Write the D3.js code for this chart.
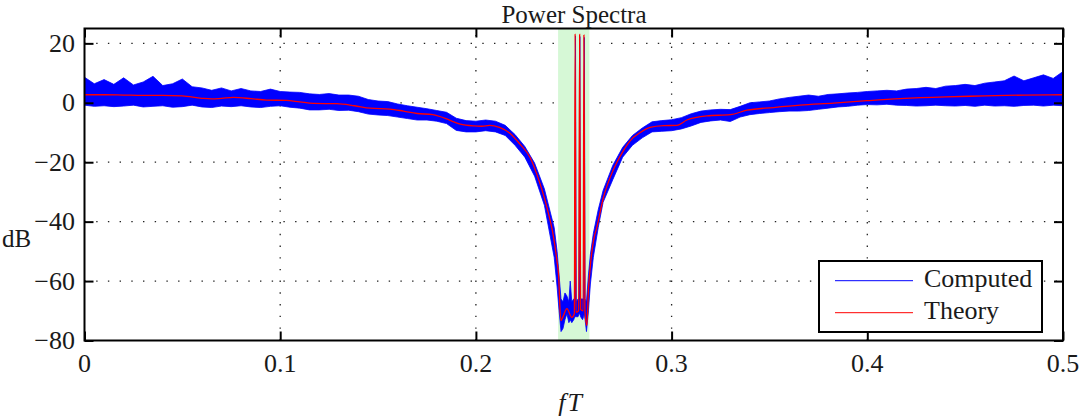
<!DOCTYPE html>
<html><head><meta charset="utf-8">
<script src="https://cdn.jsdelivr.net/npm/d3@7/dist/d3.min.js"></script>
<style>
html,body{margin:0;padding:0;background:#fff;}
svg{display:block;}
</style></head>
<body>
<svg id="chart" width="1087" height="418" font-family="'Liberation Serif', 'Times New Roman', 'DejaVu Serif', serif"></svg>
<script>
// ---------------- data ----------------
const chartTitle = "Power Spectra";
const xLabel = "fT";
const yLabel = "dB";
const legendLabels = ["Computed", "Theory"];
const xTicks = [0, 0.1, 0.2, 0.3, 0.4, 0.5];
const xTickLabels = ["0", "0.1", "0.2", "0.3", "0.4", "0.5"];
const yTicks = [-80, -60, -40, -20, 0, 20];
const yTickLabels = ["\u221280", "\u221260", "\u221240", "\u221220", "0", "20"];
const xDomain = [0, 0.5];
const yDomain = [-80, 25];
const notchBand = [0.242, 0.258];

const theoryFreq = [0.000,0.010,0.020,0.030,0.040,0.050,0.060,0.065,0.070,0.076,0.085,0.093,0.103,0.110,0.117,0.129,0.138,0.146,0.156,0.163,0.170,0.178,0.182,0.186,0.192,0.199,0.203,0.207,0.212,0.2175,0.2225,0.2277,0.2328,0.2363,0.2397,0.2414,0.2422,0.2434,0.2445,0.2465,0.2490,0.2503,0.2507,0.2511,0.2525,0.2530,0.2535,0.2548,0.2552,0.2557,0.2567,0.2575,0.2584,0.2601,0.2618,0.2652,0.2686,0.2720,0.2754,0.2788,0.2840,0.2890,0.2959,0.3027,0.3078,0.3180,0.3300,0.3385,0.3520,0.3657,0.3827,0.3998,0.4168,0.4400,0.4600,0.4800,0.5000];
const theoryDB   = [2.7,2.7,2.6,2.5,2.5,2.3,1.5,1.3,1.5,1.8,1.4,0.9,0.8,0.3,-0.2,-0.3,-1.0,-1.8,-2.1,-2.8,-3.6,-4.0,-4.7,-5.7,-7.2,-7.8,-7.9,-7.6,-8.3,-10.3,-13.9,-18.4,-27.3,-35.2,-45.3,-53.1,-57.5,-73.3,-72.0,-69.3,-72.2,-71.0,23.3,-70.5,-70.0,23.0,-69.5,-70.0,22.8,-70.0,-75.0,-63.0,-55.4,-46.4,-41.9,-31.8,-25.1,-20.1,-16.1,-12.8,-10.0,-8.3,-7.7,-7.6,-5.8,-4.4,-4.0,-2.5,-1.6,-0.8,-0.1,0.7,1.4,2.0,2.3,2.6,2.7];

const computedFreq = [0.000,0.005,0.010,0.015,0.020,0.025,0.030,0.035,0.040,0.045,0.050,0.055,0.060,0.065,0.070,0.075,0.080,0.085,0.090,0.095,0.100,0.105,0.110,0.115,0.120,0.125,0.130,0.135,0.140,0.145,0.150,0.155,0.160,0.165,0.170,0.175,0.180,0.185,0.190,0.195,0.200,0.205,0.210,0.215,0.220,0.225,0.230,0.235,0.2400,0.2415,0.2425,0.2435,0.2445,0.2455,0.2465,0.2475,0.2482,0.2490,0.2500,0.2505,0.2509,0.2513,0.2522,0.2527,0.2531,0.2535,0.2545,0.2550,0.2554,0.2558,0.2565,0.2575,0.2585,0.2600,0.2625,0.2650,0.2700,0.2750,0.2800,0.2850,0.2900,0.2950,0.3000,0.3050,0.3100,0.3150,0.3200,0.3250,0.3300,0.3350,0.3400,0.3450,0.3500,0.3550,0.3600,0.3650,0.3700,0.3750,0.3800,0.3850,0.3900,0.3950,0.4000,0.4050,0.4100,0.4150,0.4200,0.4250,0.4300,0.4350,0.4400,0.4450,0.4500,0.4550,0.4600,0.4650,0.4700,0.4750,0.4800,0.4850,0.4900,0.4950,0.5000];
const computedHigh = [8.6,6.4,7.8,6.2,8.4,6.0,7.0,8.9,5.8,6.4,8.0,5.4,5.0,4.2,5.0,4.0,4.8,4.0,3.8,4.6,3.8,3.6,3.5,3.0,2.8,3.1,2.6,2.6,2.2,1.1,0.6,0.4,-0.4,-1.0,-1.5,-2.0,-2.6,-3.2,-5.2,-6.0,-6.2,-5.8,-6.2,-7.6,-10.7,-14.7,-20.3,-29.0,-42.0,-50.0,-58.0,-66.0,-67.0,-64.0,-65.0,-67.0,-60.0,-67.0,-66.0,-66.0,22.5,-67.0,-66.0,-66.0,22.3,-66.0,-66.0,-66.0,22.0,-66.0,-67.0,-58.0,-51.0,-44.0,-36.0,-29.5,-21.0,-15.0,-11.0,-8.5,-6.4,-6.0,-5.7,-5.0,-3.7,-2.8,-2.4,-2.2,-2.3,-1.2,0.0,0.3,0.6,1.3,1.8,2.2,2.6,2.2,2.8,3.0,3.3,3.5,3.8,4.0,4.2,4.0,4.6,4.8,5.2,4.8,5.6,5.8,6.2,5.8,6.6,7.0,7.4,9.0,7.4,8.4,9.4,8.2,10.5];
const computedLow  = [-0.8,-1.2,-1.0,-1.3,-1.1,-0.8,-1.4,-1.2,-1.0,-1.5,-1.3,-0.8,-1.4,-1.6,-1.1,-1.3,-1.0,-1.4,-1.6,-1.2,-1.0,-1.5,-1.8,-2.4,-2.4,-2.2,-2.6,-2.5,-3.0,-3.8,-4.1,-4.3,-4.8,-5.3,-5.8,-5.8,-6.2,-7.0,-9.3,-9.8,-9.8,-9.4,-9.8,-11.0,-14.3,-18.3,-24.7,-34.5,-52.0,-62.0,-70.0,-77.0,-76.0,-73.0,-71.0,-74.0,-73.0,-74.0,-73.0,-72.0,-72.0,-72.0,-72.0,-71.0,-71.0,-72.0,-73.0,-72.0,-71.0,-73.0,-77.0,-70.0,-61.0,-52.0,-42.0,-33.5,-25.8,-18.3,-14.3,-11.8,-9.8,-9.6,-9.4,-8.8,-7.8,-6.6,-6.1,-5.8,-6.3,-4.8,-4.0,-3.6,-3.3,-3.0,-2.8,-2.8,-2.6,-2.2,-1.8,-1.4,-1.2,-0.8,-0.6,-0.7,-0.5,-0.8,-0.9,-1.1,-1.0,-0.8,-1.0,-1.1,-0.9,-1.2,-0.8,-1.1,-1.0,-1.2,-0.9,-0.8,-1.1,-0.8,-1.0];

// ---------------- layout ----------------
const svg = d3.select("#chart");
const plot = {left: 84.5, right: 1063, top: 28.5, bottom: 340.5};
const x = d3.scaleLinear().domain(xDomain).range([plot.left, plot.right]);
const y = d3.scaleLinear().domain(yDomain).range([plot.bottom, plot.top]);
const fontSize = 26;
const textColor = "#1a1a1a";

// grid
const grid = svg.append("g");
grid.selectAll("line.gx").data(xTicks.filter(t => t > xDomain[0] && t < xDomain[1])).enter()
  .append("line").attr("x1", d => x(d)).attr("x2", d => x(d))
  .attr("y1", plot.bottom).attr("y2", plot.top)
  .attr("stroke", "#222").attr("stroke-width", 1.3).attr("stroke-dasharray", "1.4,10.3");
grid.selectAll("line.gy").data(yTicks.filter(t => t > yDomain[0] && t < yDomain[1])).enter()
  .append("line").attr("y1", d => y(d)).attr("y2", d => y(d))
  .attr("x1", plot.left).attr("x2", plot.right)
  .attr("stroke", "#222").attr("stroke-width", 1.3).attr("stroke-dasharray", "1.4,10.3");

// notch band
svg.append("rect").attr("x", x(notchBand[0])).attr("y", plot.top)
  .attr("width", x(notchBand[1]) - x(notchBand[0])).attr("height", plot.bottom - plot.top)
  .attr("fill", "#d6f8d6");

// computed
const compData = computedFreq.map((f, i) => ({f, hi: computedHigh[i], lo: computedLow[i]}));
const area = d3.area().x(d => x(d.f)).y0(d => y(d.lo)).y1(d => y(d.hi)).curve(d3.curveLinear);
svg.append("path").datum(compData).attr("d", area)
  .attr("fill", "#0000ff").attr("stroke", "#0000ff").attr("stroke-width", 0.8).attr("stroke-linejoin", "miter");

// theory
const thData = theoryFreq.map((f, i) => ({f, v: theoryDB[i]}));
const line = d3.line().x(d => x(d.f)).y(d => y(d.v)).curve(d3.curveMonotoneX);
svg.append("path").datum(thData).attr("d", line)
  .attr("fill", "none").attr("stroke", "#ff0000").attr("stroke-width", 1.3);

// axes box
svg.append("rect").attr("x", plot.left).attr("y", plot.top)
  .attr("width", plot.right - plot.left).attr("height", plot.bottom - plot.top)
  .attr("fill", "none").attr("stroke", "#000").attr("stroke-width", 2);

const tickLen = 9;
const axB = d3.axisBottom(x).tickValues(xTicks).tickSize(-tickLen).tickFormat("");
const axT = d3.axisTop(x).tickValues(xTicks).tickSize(-tickLen).tickFormat("");
const axL = d3.axisLeft(y).tickValues(yTicks).tickSize(-tickLen).tickFormat("");
const axR = d3.axisRight(y).tickValues(yTicks).tickSize(-tickLen).tickFormat("");
function styleAxis(g){ g.select(".domain").remove(); g.selectAll(".tick line").attr("stroke", "#000").attr("stroke-width", 2); }
svg.append("g").attr("transform", `translate(0,${plot.bottom})`).call(axB).call(styleAxis);
svg.append("g").attr("transform", `translate(0,${plot.top})`).call(axT).call(styleAxis);
svg.append("g").attr("transform", `translate(${plot.left},0)`).call(axL).call(styleAxis);
svg.append("g").attr("transform", `translate(${plot.right},0)`).call(axR).call(styleAxis);

// tick labels
svg.append("g").selectAll("text").data(xTicks).enter().append("text")
  .attr("x", d => x(d)).attr("y", 372).attr("text-anchor", "middle").attr("fill", textColor)
  .attr("font-size", fontSize).text((d, i) => xTickLabels[i]);
svg.append("g").selectAll("text").data(yTicks).enter().append("text")
  .attr("x", 75).attr("y", d => y(d)).attr("dy", "0.33em").attr("text-anchor", "end").attr("fill", textColor)
  .attr("font-size", fontSize).text((d, i) => yTickLabels[i]);

// title & labels
svg.append("text").attr("x", 574).attr("y", 23).attr("text-anchor", "middle").attr("fill", textColor)
  .attr("font-size", 25).text(chartTitle);
svg.append("text").attr("x", 2).attr("y", 247).attr("text-anchor", "start").attr("fill", textColor)
  .attr("font-size", fontSize - 1).text(yLabel);
const xl = svg.append("text").attr("x", 570).attr("y", 411).attr("text-anchor", "middle").attr("fill", textColor)
  .attr("font-size", fontSize).attr("font-style", "italic");
xl.append("tspan").text(xLabel[0]);
xl.append("tspan").attr("dx", 2).text(xLabel.slice(1));

// legend
const lg = svg.append("g");
lg.append("rect").attr("x", 819).attr("y", 261).attr("width", 223).attr("height", 71)
  .attr("fill", "#fff").attr("stroke", "#000").attr("stroke-width", 2);
const legendColors = ["#0000ff", "#ff0000"];
legendLabels.forEach((lab, i) => {
  const yy = 280.7 + i * 32;
  lg.append("line").attr("x1", 835).attr("x2", 913).attr("y1", yy).attr("y2", yy)
    .attr("stroke", legendColors[i]).attr("stroke-width", 1);
  lg.append("text").attr("x", 924).attr("y", yy + 6).attr("fill", textColor).attr("font-size", fontSize).text(lab);
});
</script>
</body></html>
